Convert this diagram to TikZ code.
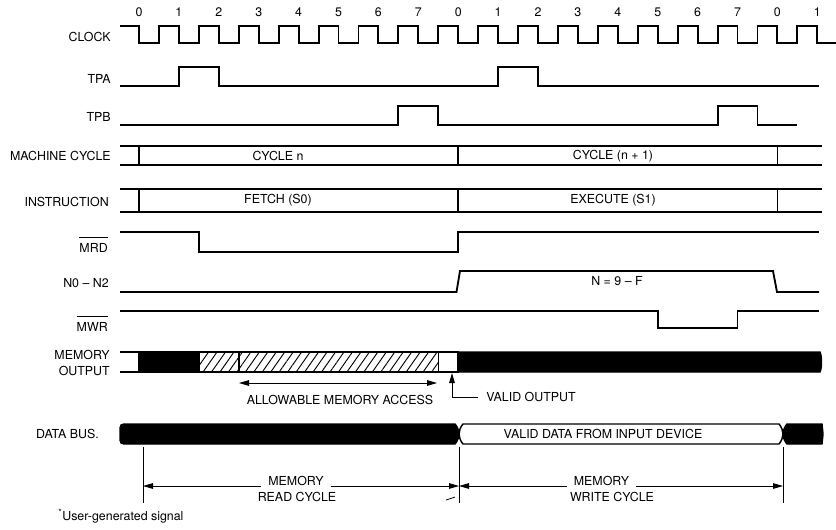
\documentclass[tikz,border=0pt]{standalone}
\usepackage{fontspec}
\setmainfont{TeX Gyre Heros}
\usepackage{tikz}
\usetikzlibrary{arrows.meta}
\usetikzlibrary{patterns.meta}

\begin{document}
\begin{tikzpicture}[x=0.75pt,y=0.75pt,yscale=-1,xscale=1,
  font=\fontsize{9.3}{12}\selectfont,
  >={Triangle[length=7.5pt,width=4.2pt]},
  wave/.style={line width=1.4pt, line join=miter},
  busline/.style={line width=1.1pt},
  dimline/.style={line width=0.6pt},
  lbl/.style={inner sep=0.75pt},
  hatch/.style={pattern={Lines[angle=55,distance=5.2pt,line width=0.7pt]}}]
\useasboundingbox (0,0) rectangle (836,529);

%Straight Lines: clock
\draw [wave] (120,26) -- (139,26) -- (139,43) -- (159,43) -- (159,26) -- (178.9,26) -- (178.9,43) -- (198.9,43) -- (198.9,26) -- (218.8,26) -- (218.8,43) -- (238.8,43) -- (238.8,26) -- (258.7,26) -- (258.7,43) -- (278.7,43) -- (278.7,26) -- (298.6,26) -- (298.6,43) -- (318.6,43) -- (318.6,26) -- (338.5,26) -- (338.5,43) -- (358.5,43) -- (358.5,26) -- (378.4,26) -- (378.4,43) -- (398.4,43) -- (398.4,26) -- (418.3,26) -- (418.3,43) -- (438.3,43) -- (438.3,26) -- (458.2,26) -- (458.2,43) -- (478.2,43) -- (478.2,26) -- (498.1,26) -- (498.1,43) -- (518.1,43) -- (518.1,26) -- (538,26) -- (538,43) -- (558,43) -- (558,26) -- (577.9,26) -- (577.9,43) -- (597.9,43) -- (597.9,26) -- (617.8,26) -- (617.8,43) -- (637.8,43) -- (637.8,26) -- (657.7,26) -- (657.7,43) -- (677.7,43) -- (677.7,26) -- (697.6,26) -- (697.6,43) -- (717.6,43) -- (717.6,26) -- (737.5,26) -- (737.5,43) -- (757.5,43) -- (757.5,26) -- (777.4,26) -- (777.4,43) -- (797.4,43) -- (797.4,26) -- (817.3,26) -- (817.3,43) -- (836,43) ;
%Straight Lines: TPA
\draw [wave] (120,86) -- (178.9,86) -- (178.9,67) -- (218.8,67) -- (218.8,86) -- (498.1,86) -- (498.1,67) -- (538,67) -- (538,86) -- (819,86) ;
%Straight Lines: TPB
\draw [wave] (120,125) -- (398.4,125) -- (398.4,106) -- (438.3,106) -- (438.3,125) -- (717.6,125) -- (717.6,106) -- (757.5,106) -- (757.5,125) -- (797,125) ;

%Bus: machine cycle
\draw [busline] (120,146) -- (822,146) ;
\draw [busline] (120,165) -- (822,165) ;
\draw [busline] (139,146) -- (139,165) ;
\draw [busline] (458.2,146) -- (458.2,165) ;
\draw [busline] (777.4,146) -- (777.4,165) ;
%Bus: instruction
\draw [busline] (120,189) -- (822,189) ;
\draw [busline] (120,212) -- (822,212) ;
\draw [busline] (139,189) -- (139,212) ;
\draw [busline] (458.2,189) -- (458.2,212) ;
\draw [busline] (777.4,189) -- (777.4,212) ;

%Straight Lines: MRD
\draw [wave] (120,232) -- (198.9,232) -- (198.9,252) -- (458.2,252) -- (458.2,232) -- (819,232) ;
%Straight Lines: N0-N2
\draw [wave] (120,292) -- (456.5,292) -- (460,271) -- (773,271) -- (777,292) -- (819,292) ;
%Straight Lines: MWR
\draw [wave] (120,311) -- (657.7,311) -- (657.7,328) -- (737.5,328) -- (737.5,311) -- (819,311) ;

%Bus: memory output
\draw [busline] (120,352) -- (139,352) ;
\draw [busline] (120,372) -- (139,372) ;
\draw [busline, fill=black] (139,352) rectangle (198.9,372) ;
\draw [busline, hatch] (198.9,352) rectangle (438.3,372) ;
\draw [busline] (238.8,352) -- (238.8,372) ;
\draw [busline, fill=white] (438.3,352) rectangle (458.2,372) ;
\draw [busline, fill=black] (458.2,352) -- (820,352) .. controls (822,356) and (822,368) .. (820,372) -- (458.2,372) -- cycle ;

%Bus: data bus
\draw [busline, fill=black] (124,424) -- (455,424) .. controls (457.5,427) and (459,430.5) .. (459,434) .. controls (459,437.5) and (457.5,441) .. (455,444) -- (124,444) .. controls (121.5,444) and (120,442.5) .. (120,440) -- (120,428) .. controls (120,425.5) and (121.5,424) .. (124,424) -- cycle ;
\draw [busline, fill=white] (463,424) -- (779,424) .. controls (781.5,427) and (783,430.5) .. (783,434) .. controls (783,437.5) and (781.5,441) .. (779,444) -- (463,444) .. controls (460.5,441) and (459,437.5) .. (459,434) .. controls (459,430.5) and (460.5,427) .. (463,424) -- cycle ;
\draw [busline, fill=black] (787,424) -- (822,424) -- (823,434) -- (822,444) -- (787,444) .. controls (784.5,441) and (783,437.5) .. (783,434) .. controls (783,430.5) and (784.5,427) .. (787,424) -- cycle ;

% Text Node: clock states
\draw (139,12) node [lbl] (s0) {0};
\draw (178.9,12) node [lbl] (s1) {1};
\draw (218.8,12) node [lbl] (s2) {2};
\draw (258.7,12) node [lbl] (s3) {3};
\draw (298.6,12) node [lbl] (s4) {4};
\draw (338.5,12) node [lbl] (s5) {5};
\draw (378.4,12) node [lbl] (s6) {6};
\draw (418.3,12) node [lbl] (s7) {7};
\draw (458.2,12) node [lbl] (s8) {0};
\draw (498.1,12) node [lbl] (s9) {1};
\draw (538,12) node [lbl] (s10) {2};
\draw (577.9,12) node [lbl] (s11) {3};
\draw (617.8,12) node [lbl] (s12) {4};
\draw (657.7,12) node [lbl] (s13) {5};
\draw (697.6,12) node [lbl] (s14) {6};
\draw (737.5,12) node [lbl] (s15) {7};
\draw (777.4,12) node [lbl] (s16) {0};
\draw (817.3,12) node [lbl] (s17) {1};

% Text Node: signal names
\draw (112,37) node [anchor=east] [lbl] (clk) {CLOCK};
\draw (112,79) node [anchor=east] [lbl] (tpa) {TPA};
\draw (112,117) node [anchor=east] [lbl] (tpb) {TPB};
\draw (112,156) node [anchor=east] [lbl] (mcyc) {MACHINE CYCLE};
\draw (110,202) node [anchor=east] [lbl] (instr) {INSTRUCTION};
\draw (109,252) node [anchor=base east] [lbl] (mrd) {$\overline{\mbox{\rule{0pt}{10pt}MRD}}$};
\draw (110,283) node [anchor=east] [lbl] (nlines) {N0 – N2};
\draw (109,331) node [anchor=base east] [lbl] (mwr) {$\overline{\mbox{\rule{0pt}{10pt}MWR}}$};
\draw (111,363) node [anchor=east] [lbl, align=right] (memout) {MEMORY\\OUTPUT};
\draw (100,434) node [anchor=east] [lbl] (dbus) {DATA BUS.};

% Text Node: bus contents
\draw (278,156) node [lbl] (cyc1) {CYCLE n};
\draw (613,156) node [lbl] (cyc2) {CYCLE (n + 1)};
\draw (278,200) node [lbl] (fetch) {FETCH (S0)};
\draw (613,200) node [lbl] (exec) {EXECUTE (S1)};
\draw (617,281) node [lbl] (nval) {N = 9 – F};
\draw (603,434) node [lbl] (vdata) {VALID DATA FROM INPUT DEVICE};

%Access window
\coordinate (accL) at (239,383);
\coordinate (accR) at (437,383);
\draw [dimline, <->] (accL) -- (accR) ;
\draw (340,400) node [lbl] (acc) {ALLOWABLE MEMORY ACCESS};
%Valid output pointer
\coordinate (voTip) at (452,373);
\draw (478,397) node [anchor=west] [inner ysep=0.75pt, inner xsep=6pt] (vout) {VALID OUTPUT};
\draw [dimline, ->] (vout.west) -| (voTip) ;

%Cycle dimensions
\coordinate (rdTop) at (143,447);
\coordinate (rdBot) at (143,503);
\coordinate (midTop) at (459,447);
\coordinate (midBot) at (459,503);
\coordinate (wrTop) at (783,447);
\coordinate (wrBot) at (783,503);
\draw [dimline] (rdTop) -- (rdBot) ;
\draw [dimline] (midTop) -- (midBot) ;
\draw [dimline] (wrTop) -- (wrBot) ;
\coordinate (rdL) at (143,486);
\coordinate (rdR) at (459,486);
\coordinate (wrR) at (783,486);
\draw (296,481) node [inner ysep=0.75pt, inner xsep=5pt] (rdmem) {MEMORY};
\draw (297,497) node [lbl] (rdcyc) {READ CYCLE};
\draw (601.5,481) node [inner ysep=0.75pt, inner xsep=5pt] (wrmem) {MEMORY};
\draw (612,497) node [lbl] (wrcyc) {WRITE CYCLE};
\draw [dimline, <-] (rdL) -- (rdmem.west |- rdL) ;
\draw [dimline, ->] (rdmem.east |- rdL) -- (rdR) ;
\draw [dimline, <-] (rdR) -- (wrmem.west |- rdR) ;
\draw [dimline, ->] (wrmem.east |- wrR) -- (wrR) ;
\draw [dimline] (446,500) -- (455,497) ;

% Text Node: footnote
\draw (57,516) node [anchor=west] [lbl] (note) {\textsuperscript{*}User-generated signal};

\end{tikzpicture}
\end{document}
